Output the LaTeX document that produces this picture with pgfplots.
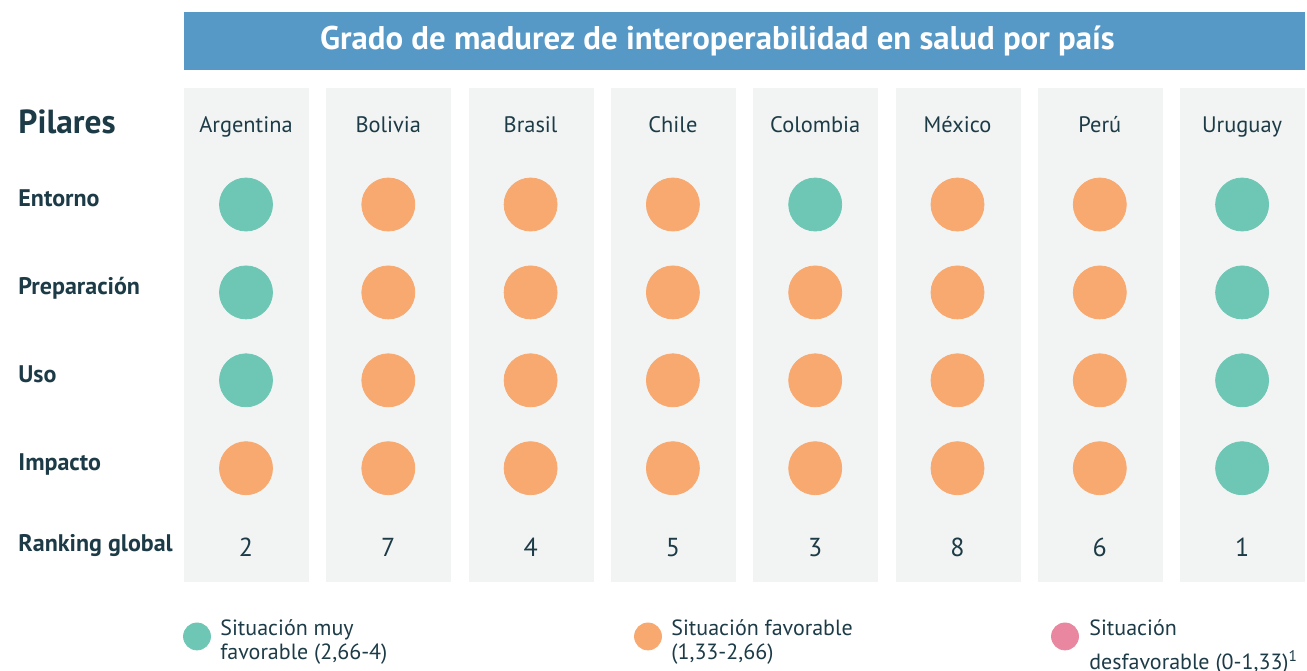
\documentclass[border=0pt]{standalone}
\usepackage{pgfplots}
\pgfplotsset{compat=1.18}
\usepackage{fontspec}
\setmainfont{PT Sans}
\definecolor{titlebar}{HTML}{5698C6}
\definecolor{panel}{HTML}{F2F4F3}
\definecolor{verde}{HTML}{6EC7B5}
\definecolor{naranja}{HTML}{F8A970}
\definecolor{rosa}{HTML}{E8879F}
\definecolor{txt}{HTML}{1C3B47}
\tikzset{hdr/.style={txt, anchor=base, inner sep=0pt, font=\fontsize{11.2}{13}\selectfont},
  rowlab/.style={txt, anchor=base west, inner sep=0pt, font=\fontsize{12}{14}\selectfont\bfseries}}
\begin{document}
\begin{tikzpicture}
\begin{axis}[name=ax, width=653.5pt, height=335pt, scale only axis,
  axis lines=none, ticks=none, xmin=-1.7288, xmax=7.4561, ymin=-1.3265, ymax=6.2958,
  y dir=reverse, clip=false]
% title bar
\fill[titlebar] (axis cs:-0.4357,-1.190) rectangle (axis cs:7.442,-0.530);
\node[white, font=\fontsize{16.4}{19}\selectfont\bfseries] at (axis cs:3.313,-0.860) {Grado de madurez de interoperabilidad en salud por país};
% panels
\pgfplotsinvokeforeach{0,1,2,3,4,5,6,7}{
  \fill[panel] (axis cs:#1-0.4357,-0.3254) rectangle (axis cs:#1+0.4428,5.2947);
}
% headers
\node[hdr] at (axis cs:0,0.177) {Argentina};
\node[hdr] at (axis cs:1,0.177) {Bolivia};
\node[hdr] at (axis cs:2,0.177) {Brasil};
\node[hdr] at (axis cs:3,0.177) {Chile};
\node[hdr] at (axis cs:4,0.177) {Colombia};
\node[hdr] at (axis cs:5,0.177) {México};
\node[hdr] at (axis cs:6,0.177) {Perú};
\node[hdr] at (axis cs:7,0.177) {Uruguay};
% row labels
\node[txt, anchor=base west, inner sep=0pt, font=\fontsize{16.7}{19}\selectfont\bfseries] at (axis cs:-1.6022,0.190) {Pilares};
\node[rowlab] at (axis cs:-1.6022,1.028) {Entorno};
\node[rowlab] at (axis cs:-1.6022,2.028) {Preparación};
\node[rowlab] at (axis cs:-1.6022,3.028) {Uso};
\node[rowlab] at (axis cs:-1.6022,4.030) {Impacto};
\node[rowlab] at (axis cs:-1.6022,4.942) {Ranking global};
% circles: situación muy favorable
\addplot[only marks, mark=*, mark size=13.25pt, color=verde] coordinates {
 (0,1) (4,1) (7,1)
 (0,2) (7,2)
 (0,3) (7,3)
 (7,4)};
% circles: situación favorable
\addplot[only marks, mark=*, mark size=13.25pt, color=naranja] coordinates {
 (1,1) (2,1) (3,1) (5,1) (6,1)
 (1,2) (2,2) (3,2) (4,2) (5,2) (6,2)
 (1,3) (2,3) (3,3) (4,3) (5,3) (6,3)
 (0,4) (1,4) (2,4) (3,4) (4,4) (5,4) (6,4)};
% ranking global
\addplot[draw=none, mark=none, nodes near coords, point meta=explicit symbolic,
  every node near coord/.append style={anchor=center, txt, font=\fontsize{13}{15}\selectfont}]
  coordinates {(0,4.902)[2] (1,4.902)[7] (2,4.902)[4] (3,4.902)[5] (4,4.902)[3] (5,4.902)[8] (6,4.902)[6] (7,4.902)[1]};
% legend markers
\addplot[only marks, mark=*, mark size=6.75pt, color=verde] coordinates {(-0.3443,5.914)};
\addplot[only marks, mark=*, mark size=6.75pt, color=naranja] coordinates {(2.825,5.914)};
\addplot[only marks, mark=*, mark size=6.75pt, color=rosa] coordinates {(5.7554,5.914)};
\node[txt, anchor=west, align=left, inner sep=0pt, font=\fontsize{11}{12}\selectfont] at (axis cs:-0.1827,5.977) {Situación muy\\favorable (2,66-4)};
\node[txt, anchor=west, align=left, inner sep=0pt, font=\fontsize{11}{12}\selectfont] at (axis cs:2.9866,5.977) {Situación favorable\\(1,33-2,66)};
\node[txt, anchor=west, align=left, inner sep=0pt, font=\fontsize{11}{17}\selectfont] at (axis cs:5.924,6.034) {Situación\\desfavorable (0-1,33)\textsuperscript{1}};
\end{axis}
\pgfresetboundingbox
\path (ax.south west) rectangle (ax.north east);
\end{tikzpicture}
\end{document}
